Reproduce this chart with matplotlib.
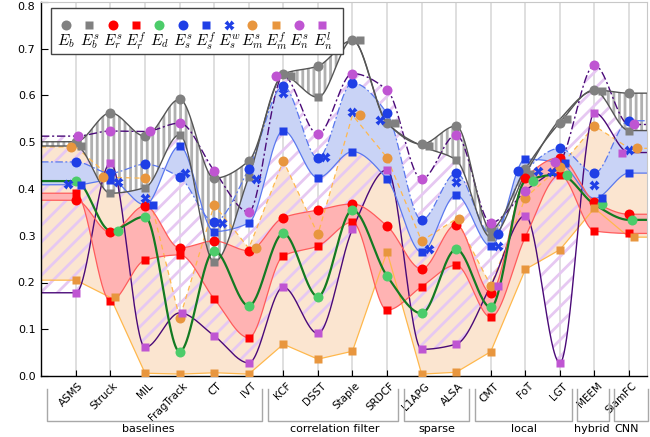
import numpy as np
import matplotlib
matplotlib.use("Agg")
import matplotlib.pyplot as plt
import matplotlib.transforms as mtransforms
from matplotlib.patches import Rectangle

plt.rcParams['mathtext.fontset'] = 'cm'
plt.rcParams['hatch.linewidth'] = 2.0

# ---------------- data ----------------
trackers = ["ASMS", "Struck", "MIL", "FragTrack", "CT", "IVT", "KCF", "DSST", "Staple",
            "SRDCF", "L1APG", "ALSA", "CMT", "FoT", "LGT", "MEEM", "SiamFC"]

group_names = ["baselines", "correlation filter", "sparse", "local", "hybrid", "CNN"]

E_b   = [0.501, 0.563, 0.513, 0.592, 0.423, 0.460, 0.646, 0.663, 0.718, 0.541, 0.496, 0.535, 0.314, 0.443, 0.542, 0.612, 0.605]
E_b_s = [0.492, 0.391, 0.403, 0.516, 0.244, 0.426, 0.642, 0.596, 0.719, 0.542, 0.492, 0.462, 0.297, 0.432, 0.549, 0.610, 0.525]
E_r_s = [0.376, 0.307, 0.364, 0.274, 0.289, 0.268, 0.339, 0.355, 0.368, 0.321, 0.229, 0.324, 0.178, 0.423, 0.467, 0.373, 0.346]
E_r_f = [0.391, 0.160, 0.248, 0.259, 0.165, 0.082, 0.257, 0.278, 0.329, 0.141, 0.191, 0.237, 0.126, 0.297, 0.430, 0.310, 0.305]
E_d   = [0.417, 0.311, 0.341, 0.052, 0.268, 0.150, 0.305, 0.170, 0.355, 0.214, 0.134, 0.271, 0.147, 0.417, 0.431, 0.367, 0.334]
E_s_s = [0.458, 0.434, 0.453, 0.425, 0.330, 0.443, 0.620, 0.466, 0.627, 0.562, 0.334, 0.434, 0.304, 0.439, 0.487, 0.434, 0.546]
E_s_f = [0.409, 0.419, 0.366, 0.492, 0.309, 0.327, 0.525, 0.424, 0.480, 0.421, 0.265, 0.387, 0.278, 0.464, 0.456, 0.380, 0.434]
E_s_w = [0.410, 0.416, 0.380, 0.434, 0.327, 0.421, 0.605, 0.469, 0.565, 0.548, 0.271, 0.416, 0.278, 0.439, 0.437, 0.409, 0.483]
E_m_s = [0.490, 0.425, 0.423, 0.123, 0.366, 0.273, 0.460, 0.303, 0.558, 0.467, 0.289, 0.336, 0.193, 0.381, 0.448, 0.535, 0.487]
E_m_f = [0.205, 0.168, 0.006, 0.004, 0.007, 0.004, 0.068, 0.036, 0.053, 0.266, 0.004, 0.008, 0.052, 0.228, 0.270, 0.359, 0.297]
E_n_s = [0.513, 0.524, 0.523, 0.541, 0.439, 0.351, 0.642, 0.517, 0.647, 0.612, 0.421, 0.516, 0.328, 0.396, 0.457, 0.665, 0.538]
E_n_l = [0.178, 0.456, 0.061, 0.135, 0.086, 0.028, 0.190, 0.091, 0.314, 0.441, 0.057, 0.068, 0.193, 0.343, 0.028, 0.563, 0.478]

# ---------------- styles ----------------
GRAY_M, GRAY_L = "#808080", "#555555"
RED_M, RED_L, RED_F = "#ff0000", "#ff5c5c", "#ffb3b3"
GREEN_M, GREEN_L = "#4ccc6a", "#137a22"
BLUE_M, BLUE_L, BLUE_F = "#1f3fe6", "#5a78ee", "#c9d3f6"
ORANGE_M, ORANGE_L, ORANGE_F = "#e8963e", "#ffb84d", "#fbe5d0"
PURPLE_M, PURPLE_L, PURPLE_H = "#bf55d2", "#4a0a78", "#e6c8f2"

series = [
    (E_b, 'o', GRAY_M, r"$E_b$"),
    (E_b_s, 's', GRAY_M, r"$E_b^s$"),
    (E_r_s, 'o', RED_M, r"$E_r^s$"),
    (E_r_f, 's', RED_M, r"$E_r^f$"),
    (E_d, 'o', GREEN_M, r"$E_d$"),
    (E_s_s, 'o', BLUE_M, r"$E_s^s$"),
    (E_s_f, 's', BLUE_M, r"$E_s^f$"),
    (E_s_w, 'X', BLUE_M, r"$E_s^w$"),
    (E_m_s, 'o', ORANGE_M, r"$E_m^s$"),
    (E_m_f, 's', ORANGE_M, r"$E_m^f$"),
    (E_n_s, 'o', PURPLE_M, r"$E_n^s$"),
    (E_n_l, 's', PURPLE_M, r"$E_n^l$"),
]

n = len(trackers)
x = np.arange(n, dtype=float)
XL, XR = -1.01, 16.52

fig = plt.figure(figsize=(6.5, 4.37), dpi=100)
ax = fig.add_axes([41 / 650, 1 - 376 / 437, 606 / 650, 374 / 437])
ax.set_xlim(XL, XR)
ax.set_ylim(0, 0.8)


def pchip(xk, yk, xs):
    xk = np.asarray(xk, float)
    yk = np.asarray(yk, float)
    h = np.diff(xk)
    d = np.diff(yk) / h
    m = np.zeros_like(yk)
    m[0], m[-1] = d[0], d[-1]
    for k in range(1, len(xk) - 1):
        if d[k - 1] * d[k] <= 0:
            m[k] = 0.0
        else:
            w1 = 2 * h[k] + h[k - 1]
            w2 = h[k] + 2 * h[k - 1]
            m[k] = (w1 + w2) / (w1 / d[k - 1] + w2 / d[k])
    idx = np.clip(np.searchsorted(xk, xs) - 1, 0, len(xk) - 2)
    hh = h[idx]
    t = (xs - xk[idx]) / hh
    h00 = 2 * t**3 - 3 * t**2 + 1
    h10 = t**3 - 2 * t**2 + t
    h01 = -2 * t**3 + 3 * t**2
    h11 = t**3 - t**2
    return h00 * yk[idx] + h10 * hh * m[idx] + h01 * yk[idx + 1] + h11 * hh * m[idx + 1]


xs = np.linspace(XL, XR, 1500)
xe = np.concatenate([[XL - 0.2], x, [XR + 0.3]])


def curve(vals, smooth=True):
    v = np.asarray(vals, float)
    ve = np.concatenate([[v[0]], v, [v[-1]]])
    if smooth:
        return pchip(xe, ve, xs)
    return np.interp(xs, xe, ve)


c_b, c_bs = curve(E_b), curve(E_b_s)
c_rs, c_rf = curve(E_r_s), curve(E_r_f)
c_d = curve(E_d)
c_ss, c_sf = curve(E_s_s), curve(E_s_f)
c_ms, c_mf = curve(E_m_s, False), curve(E_m_f, False)
c_ns, c_nl = curve(E_n_s), curve(E_n_l)

# fills
ax.fill_between(xs, c_mf, c_ms, facecolor=ORANGE_F, edgecolor='none', lw=0, zorder=1.0)
ax.fill_between(xs, c_nl, c_ns, facecolor='none', edgecolor=PURPLE_H, hatch='//', lw=0, zorder=1.1)
ax.fill_between(xs, c_sf, c_ss, facecolor=BLUE_F, edgecolor='none', lw=0, zorder=1.2)
ax.fill_between(xs, c_rf, c_rs, facecolor=RED_F, edgecolor='none', lw=0, zorder=1.3)
ax.fill_between(xs, c_bs, c_b, facecolor='white', edgecolor='#b0b0b0', hatch='|||', lw=0, zorder=1.4)

# lines
ax.plot(xs, c_mf, color=ORANGE_L, lw=0.9, zorder=2)
ax.plot(xs, c_ms, color=ORANGE_L, lw=0.9, ls=(0, (4, 3)), zorder=2)
ax.plot(xs, c_nl, color=PURPLE_L, lw=1.0, zorder=2)
ax.plot(xs, c_ns, color=PURPLE_L, lw=1.0, ls=(0, (6, 2, 1.5, 2)), zorder=2)
ax.plot(xs, c_sf, color=BLUE_L, lw=0.9, zorder=2)
ax.plot(xs, c_ss, color=BLUE_L, lw=0.9, ls=(0, (6, 2, 1.5, 2)), zorder=2)
ax.plot(xs, c_rf, color=RED_L, lw=0.9, zorder=2)
ax.plot(xs, c_rs, color=RED_L, lw=0.9, zorder=2)
ax.plot(xs, c_bs, color=GRAY_L, lw=1.0, zorder=2.1)
ax.plot(xs, c_b, color=GRAY_L, lw=1.0, zorder=2.1)
ax.plot(xs, c_d, color=GREEN_L, lw=1.6, zorder=2.2)

# marker dodging (computed in pixel space)
p0 = ax.transData.transform((0, 0))
p1 = ax.transData.transform((1, 1))
ppx, ppy = p1[0] - p0[0], p1[1] - p0[1]
offsets = np.zeros((len(series), n))
steps = [0, 1, -1, 2, -2, 3, -3, 4, -4, 5, -5, 6, -6]
for j in range(n):
    placed = []
    for i, s in enumerate(series):
        yv = s[0][j] * ppy
        dx = 0.0
        for k in steps:
            dx = k * 2.5
            if all((dx - px) ** 2 + (yv - py) ** 2 >= 6.0 ** 2 for px, py in placed):
                break
        placed.append((dx, yv))
        offsets[i, j] = dx / ppx


def mstyle(marker, color):
    if marker == 'o':
        return dict(marker='o', ms=7.2, mfc=color, mec='none')
    if marker == 's':
        return dict(marker='s', ms=6.0, mfc=color, mec='none')
    return dict(marker='X', ms=7.0, mfc=color, mec='none')


for i, (vals, mk, col, lab) in enumerate(series):
    ax.plot(x + offsets[i], vals, ls='none', zorder=3 + 0.01 * i, **mstyle(mk, col))

# axes styling
ax.set_xticks(x)
ax.set_xticklabels(trackers, rotation=45, ha='right', va='center', rotation_mode='anchor', fontsize=7.5)
ax.set_yticks(np.arange(0, 0.81, 0.1))
ax.set_yticklabels([f"{v:.1f}" for v in np.arange(0, 0.81, 0.1)], fontsize=8)
ax.tick_params(axis='x', direction='in', length=4, pad=9)
ax.tick_params(axis='y', direction='in', length=5, pad=4)
shift = mtransforms.ScaledTranslation(6 / 100, 4 / 100, fig.dpi_scale_trans)
for lbl in ax.get_xticklabels():
    lbl.set_transform(lbl.get_transform() + shift)
ylbls = ax.get_yticklabels()
ylbls[-1].set_va('top')
ax.grid(axis='x', color='#dcdcdc', lw=1.3)
ax.set_axisbelow(True)
for sp in ['top', 'right']:
    ax.spines[sp].set_color('#c8c8c8')
for sp in ['left', 'bottom']:
    ax.spines[sp].set_color('black')
    ax.spines[sp].set_linewidth(1.0)

# group brackets
trans = mtransforms.blended_transform_factory(ax.transData, ax.transAxes)
lefts = [-0.84, 5.57, 9.48, 11.54, 14.49, 15.57]
rights = [5.39, 9.32, 11.36, 14.35, 15.41, 16.55]
label_x = [2.08, 7.48, 10.43, 12.95, 14.92, 15.94]
yt, yb = -0.035, -0.1195
for gname, l, r, lx in zip(group_names, lefts, rights, label_x):
    ax.plot([l, l, r, r], [yt, yb, yb, yt], color='#a8a8a8', lw=1.0, transform=trans, clip_on=False)
    ax.text(lx, -0.143, gname, transform=trans, ha='center', va='center', fontsize=8)

# legend (markers above labels)
ax.add_patch(Rectangle((10 / 606, (376 - 54) / 374), 292 / 606, 46 / 374, transform=ax.transAxes,
                       facecolor='white', edgecolor='#444444', lw=1.0, zorder=10, clip_on=False))
for i, (vals, mk, col, lab) in enumerate(series):
    lx = (66 + 23.3 * i - 41) / 606
    ax.plot([lx], [(376 - 25) / 374], transform=ax.transAxes, ls='none', zorder=11, clip_on=False,
            **mstyle(mk, col))
    ax.text(lx, (376 - 41.5) / 374, lab, transform=ax.transAxes, ha='center', va='center',
            fontsize=11, zorder=11)

fig.savefig("out.png", dpi=100)
